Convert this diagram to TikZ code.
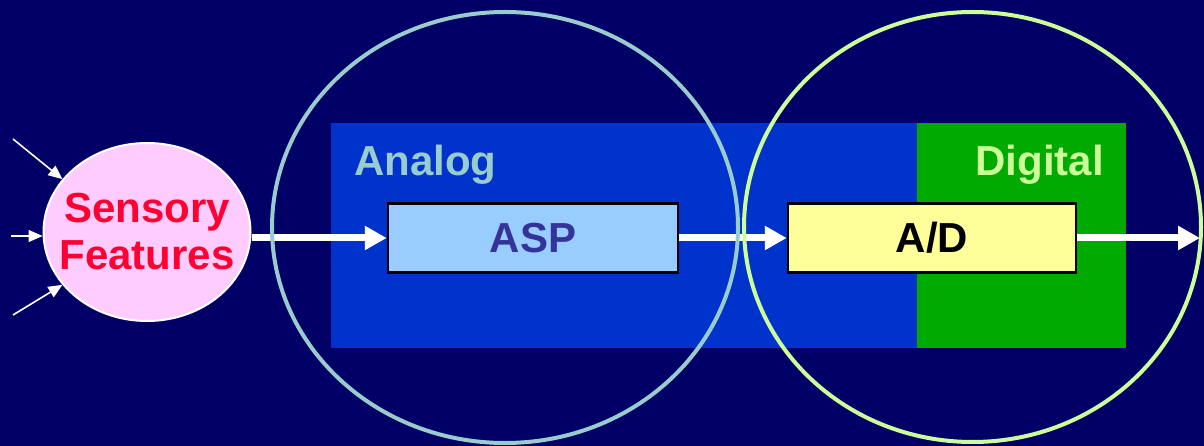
\documentclass[tikz,border=0pt]{standalone}
\usepackage{fontspec}
\setmainfont{Liberation Sans}
\usetikzlibrary{shapes.geometric,arrows.meta}
\definecolor{bgnavy}{HTML}{000066}
\definecolor{analogblue}{HTML}{0033CC}
\definecolor{digitalgreen}{HTML}{00AA00}
\definecolor{tealring}{HTML}{99CCCC}
\definecolor{limering}{HTML}{CCFF99}
\definecolor{pinkfill}{HTML}{FFCCFF}
\definecolor{sensred}{HTML}{FF0033}
\definecolor{aspfill}{HTML}{99CCFF}
\definecolor{asptext}{HTML}{333399}
\definecolor{adfill}{HTML}{FFFF99}
\tikzset{
  bigfont/.style={font=\fontsize{42}{47}\selectfont\bfseries},
  sens/.style={ellipse, draw=white, line width=2pt, fill=pinkfill,
    minimum width=207, minimum height=178, inner sep=0pt},
  senstext/.style={align=center, text=sensred, inner sep=0pt, bigfont},
  stage/.style={rectangle, draw=black, line width=2.5pt,
    minimum width=288, minimum height=69, inner sep=0pt, bigfont},
  flow/.style={draw=white, line width=7pt,
    -{Triangle[length=22pt,width=23pt]}},
  feed/.style={draw=white, line width=1.6pt,
    -{Triangle[length=14pt,width=12pt]}},
  ring/.style={line width=4pt},
  regionlabel/.style={inner sep=0pt, bigfont}
}
\begin{document}
\begin{tikzpicture}[x=1pt,y=-1pt]
  % background
  \fill[bgnavy] (0,0) rectangle (1204,446);
  \useasboundingbox (0,0) rectangle (1204,446);

  % analog and digital regions
  \fill[analogblue] (331,123) rectangle (917,348);
  \fill[digitalgreen] (917,123) rectangle (1126,348);
  \node[regionlabel, anchor=base west, text=tealring] (analog) at (354,176) {Analog};
  \node[regionlabel, anchor=base east, text=limering] (digital) at (1104,176) {Digital};

  % processing chain
  \node[sens] (sf) at (147,232) {};
  \node[senstext] (sflabel) at (sf.center) {Sensory\\Features};
  \node[stage, fill=aspfill, text=asptext, minimum width=290] (asp) at (533,238) {ASP};
  \node[stage, fill=adfill, text=black] (ad) at (932,238) {A/D};

  % incoming stimuli
  \coordinate (in1) at (13,139);
  \coordinate (in2) at (11,236);
  \coordinate (in3) at (13,315);
  \coordinate (out) at (1200,238);
  \draw[feed] (in1) -- (sf.148);
  \draw[feed] (in2) -- (sf.west |- in2);
  \draw[feed] (in3) -- (sf.212);

  % signal flow
  \coordinate (sfout) at (sf.east |- asp.west);
  \draw[flow] (sfout) -- (asp.west);
  \draw[flow] (asp.east) -- (ad.west);
  \draw[flow] (ad.east) -- (out);

  % domain rings
  \draw[ring, tealring] (505,227.5) ellipse [x radius=233, y radius=215.5];
  \draw[ring, limering] (972.5,227) ellipse [x radius=228.5, y radius=215];
\end{tikzpicture}
\end{document}
